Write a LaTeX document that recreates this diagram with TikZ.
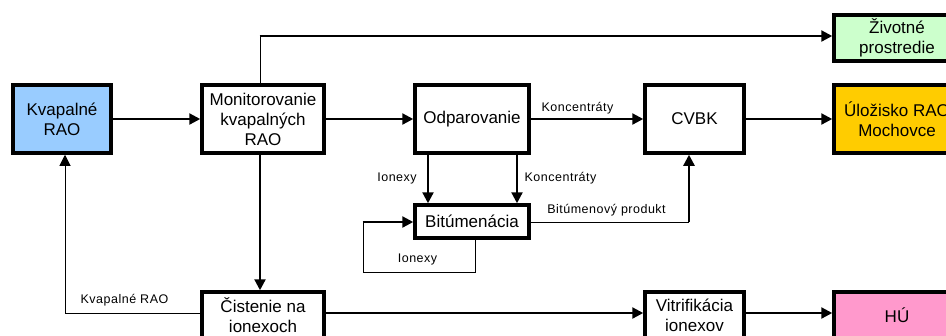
\documentclass[tikz,border=0pt]{standalone}
\usepackage{fontspec}
\setmainfont{Liberation Sans}
\newfontfamily\lblfont[LetterSpace=4]{Liberation Sans}
\usetikzlibrary{arrows.meta}
\definecolor{kblue}{HTML}{99CCFF}
\definecolor{kgreen}{HTML}{CCFFCC}
\definecolor{korange}{HTML}{FFCC00}
\definecolor{kpink}{HTML}{FF99CC}
\begin{document}
\begin{tikzpicture}[x=1pt,y=-1pt,
 box/.style={draw, line width=3.5pt, inner sep=0pt, align=center, font=\fontsize{17}{20}\selectfont},
 arr/.style={line width=2.3pt, -{Triangle[length=11pt,width=11pt]}},
 thinarr/.style={line width=1pt, -{Triangle[length=11pt,width=11pt]}},
 thinln/.style={line width=1pt},
 lbl/.style={font=\lblfont\fontsize{12.5}{14}\selectfont, inner sep=0pt, anchor=base}
]
\path[use as bounding box] (0,0) rectangle (946,335);
\clip (0,0) rectangle (946,335);

% boxes
\node[box, fill=kblue, minimum width=98pt, minimum height=68pt] (kv) at (62,119) {Kvapalné\\RAO};
\node[box, minimum width=122pt, minimum height=68pt] (mon) at (263,119) {Monitorovanie\\kvapalných\\RAO};
\node[box, minimum width=114pt, minimum height=68pt] (odp) at (472,119) {Odparovanie};
\node[box, minimum width=99pt, minimum height=68pt] (cvbk) at (694.5,119) {CVBK};
\node[box, fill=korange, minimum width=126pt, minimum height=68pt] (ulo) at (897,119) {Úložisko RAO\\Mochovce};
\node[box, fill=kgreen, minimum width=126pt, minimum height=46pt] (ziv) at (897,38) {Životné\\prostredie};
\node[box, minimum width=114pt, minimum height=33pt] (bit) at (472,221.5) {Bitúmenácia};
\node[box, minimum width=122pt, minimum height=46pt] (cis) at (263,315) {Čistenie na\\ionexoch};
\node[box, minimum width=99pt, minimum height=46pt] (vit) at (694.5,315) {Vitrifikácia\\ionexov};
\node[box, fill=kpink, minimum width=126pt, minimum height=46pt] (hu) at (897,315) {HÚ};

% helper coordinates
\coordinate (t1) at (260,36);
\coordinate (xa) at (428,0);
\coordinate (xb) at (517,0);
\coordinate (bc) at (689,222);
\coordinate (l1) at (475,272);
\coordinate (l2) at (363,222);
\coordinate (k1) at (65,313);

% main row
\draw[arr] (kv) -- (mon);
\draw[arr] (mon) -- (odp);
\draw[arr] (odp) -- (cvbk);
\draw[arr] (cvbk) -- (ulo);

% to environment
\draw[thinln] (mon.north -| t1) -- (t1);
\draw[arr] ([xshift=-0.5pt]t1) -- (ziv.west |- t1);

% down to cleaning
\draw[arr] (mon.south -| t1) -- (cis.north -| t1);

% evaporation to bitumen
\draw[arr] (odp.south -| xa) -- (bit.north -| xa);
\draw[arr] (odp.south -| xb) -- (bit.north -| xb);

% bitumen to CVBK
\draw[thinln] (bit.east |- bc) -- (bc);
\draw[arr] ([yshift=0.5pt]bc) -- (cvbk.south -| bc);

% loop
\draw[thinln] (bit.south -| l1) -- (l1) -| (l2);
\draw[arr] ([xshift=-0.5pt]l2) -- (bit.west |- l2);

% back to liquid RAO
\draw[thinarr] (cis.west |- k1) -- (k1) -- (kv.south -| k1);

% bottom row
\draw[arr] (cis.east |- k1) -- (vit.west |- k1);
\draw[arr] (vit.east |- k1) -- (hu.west |- k1);

% labels
\node[lbl] (lb1) at (577.5,111) {Koncentráty};
\node[lbl] (lb2) at (397,181) {Ionexy};
\node[lbl] (lb3) at (560.5,181) {Koncentráty};
\node[lbl] (lb4) at (606.5,213) {Bitúmenový produkt};
\node[lbl] (lb5) at (417.5,262) {Ionexy};
\node[lbl] (lb6) at (124.5,303) {Kvapalné RAO};
\end{tikzpicture}
\end{document}
